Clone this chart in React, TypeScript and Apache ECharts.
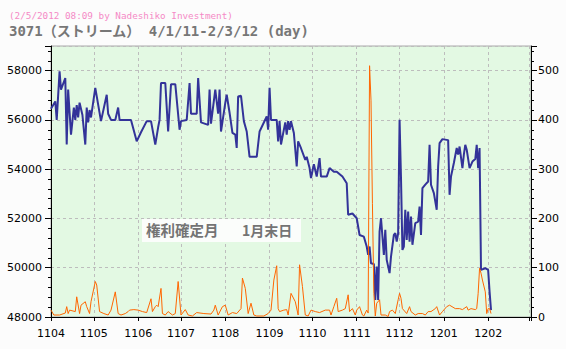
import React, { useEffect, useRef } from 'react';
import * as echarts from 'echarts';

const titleLine1 = '(2/5/2012 08:09 by Nadeshiko Investment)';
const titleLine2 = '3071（ストリーム） 4/1/11-2/3/12 (day)';
const noteLeft = '権利確定月';
const noteRight = '1月末日';

const monthLabels = ['1104', '1105', '1106', '1107', '1108', '1109', '1110', '1111', '1112', '1201', '1202'];

const priceDates = [
  '2011-04-01', '2011-04-04', '2011-04-05', '2011-04-07', '2011-04-08', '2011-04-11', '2011-04-12', '2011-04-13',
  '2011-04-15', '2011-04-17', '2011-04-18', '2011-04-19', '2011-04-20', '2011-04-21', '2011-04-23', '2011-04-25',
  '2011-04-26', '2011-04-27', '2011-04-28', '2011-04-29', '2011-05-02', '2011-05-06', '2011-05-10', '2011-05-11',
  '2011-05-13', '2011-05-16', '2011-05-18', '2011-05-19', '2011-05-27', '2011-05-31', '2011-06-03', '2011-06-07',
  '2011-06-10', '2011-06-13', '2011-06-15', '2011-06-16', '2011-06-17', '2011-06-20', '2011-06-22', '2011-06-24',
  '2011-06-27', '2011-06-30', '2011-07-01', '2011-07-05', '2011-07-07', '2011-07-08', '2011-07-12', '2011-07-13',
  '2011-07-15', '2011-07-20', '2011-07-21', '2011-07-22', '2011-07-25', '2011-07-27', '2011-07-28', '2011-07-29',
  '2011-08-01', '2011-08-02', '2011-08-04', '2011-08-06', '2011-08-08', '2011-08-09', '2011-08-10', '2011-08-12',
  '2011-08-14', '2011-08-16', '2011-08-18', '2011-08-23', '2011-08-25', '2011-08-30', '2011-08-31', '2011-09-01',
  '2011-09-02', '2011-09-06', '2011-09-07', '2011-09-08', '2011-09-09', '2011-09-12', '2011-09-13', '2011-09-14',
  '2011-09-15', '2011-09-16', '2011-09-18', '2011-09-20', '2011-09-21', '2011-09-23', '2011-09-26', '2011-09-27',
  '2011-09-29', '2011-09-30', '2011-10-02', '2011-10-04', '2011-10-06', '2011-10-07', '2011-10-11', '2011-10-13',
  '2011-10-16', '2011-10-18', '2011-10-22', '2011-10-25', '2011-10-26', '2011-10-29', '2011-11-01', '2011-11-03',
  '2011-11-06', '2011-11-08', '2011-11-09', '2011-11-10', '2011-11-11', '2011-11-13', '2011-11-14', '2011-11-15',
  '2011-11-16', '2011-11-17', '2011-11-18', '2011-11-20', '2011-11-21', '2011-11-22', '2011-11-24', '2011-11-25',
  '2011-11-27', '2011-11-28', '2011-11-29', '2011-11-30', '2011-12-01', '2011-12-02', '2011-12-03', '2011-12-04',
  '2011-12-05', '2011-12-06', '2011-12-07', '2011-12-08', '2011-12-09', '2011-12-10', '2011-12-12', '2011-12-14',
  '2011-12-15', '2011-12-16', '2011-12-17', '2011-12-19', '2011-12-21', '2011-12-22', '2011-12-23', '2011-12-25',
  '2011-12-27', '2011-12-28', '2011-12-29', '2011-12-31', '2012-01-04', '2012-01-05', '2012-01-06', '2012-01-08',
  '2012-01-10', '2012-01-11', '2012-01-12', '2012-01-14', '2012-01-15', '2012-01-16', '2012-01-17', '2012-01-19',
  '2012-01-21', '2012-01-23', '2012-01-24', '2012-01-25', '2012-01-26', '2012-01-27', '2012-01-30', '2012-02-01',
  '2012-02-02', '2012-02-03',
];

const priceValues = [
  56450, 56750, 56000, 57970, 57230, 57700, 55000, 57230,
  55400, 56500, 56000, 56600, 56100, 56700, 56200, 55000,
  56500, 55900, 56400, 56100, 57300, 55950, 57020, 56250,
  56000, 56000, 56500, 56000, 56000, 55130, 55500, 55950,
  55950, 55000, 55700, 56000, 57500, 57500, 55530, 57450,
  57450, 55600, 55950, 56000, 57500, 56250, 56250, 57700,
  55900, 55800, 57230, 55850, 57230, 56250, 57230, 55530,
  56690, 57020, 56290, 55470, 55400, 54860, 56950, 56980,
  55950, 55530, 54500, 54500, 55530, 56140, 55600, 57300,
  56000, 56000, 55130, 55950, 55000, 55900, 55400, 55950,
  55600, 55950, 55470, 54110, 55130, 54850, 54380, 54500,
  54045, 53640, 54200, 53700, 54450, 53700, 53700, 54045,
  53900, 53900, 53700, 53430, 52150, 52200, 52010, 51330,
  51260, 50860, 50520, 50860, 50180, 50150, 48690, 50050,
  48690, 51470, 52010, 50520, 51540, 50320, 49780, 50450,
  51330, 51400, 51060, 51400, 56010, 53640, 50720, 50860,
  52350, 51130, 52280, 51060, 52080, 50930, 51810, 51870,
  52480, 51330, 53230, 53370, 53500, 54990, 53370, 53030,
  52350, 54110, 55060, 55220, 55180, 52960, 53700, 54250,
  54860, 54590, 54920, 54040, 54590, 54990, 54790, 54040,
  54310, 54410, 54990, 54040, 54860, 49910, 49980, 49910,
  49030, 48280,
];

const volumeDates = [
  '2011-04-01', '2011-04-03', '2011-04-07', '2011-04-11', '2011-04-12', '2011-04-13', '2011-04-14', '2011-04-18',
  '2011-04-19', '2011-04-21', '2011-04-22', '2011-04-25', '2011-04-26', '2011-04-28', '2011-04-29', '2011-05-02',
  '2011-05-03', '2011-05-05', '2011-05-08', '2011-05-11', '2011-05-13', '2011-05-16', '2011-05-18', '2011-05-20',
  '2011-05-23', '2011-05-25', '2011-05-26', '2011-05-29', '2011-06-01', '2011-06-04', '2011-06-07', '2011-06-10',
  '2011-06-11', '2011-06-13', '2011-06-14', '2011-06-15', '2011-06-17', '2011-06-18', '2011-06-20', '2011-06-22',
  '2011-06-25', '2011-06-27', '2011-06-29', '2011-07-01', '2011-07-04', '2011-07-06', '2011-07-09', '2011-07-12',
  '2011-07-17', '2011-07-22', '2011-07-24', '2011-07-25', '2011-07-27', '2011-07-30', '2011-08-01', '2011-08-03',
  '2011-08-06', '2011-08-09', '2011-08-12', '2011-08-13', '2011-08-15', '2011-08-17', '2011-08-19', '2011-08-21',
  '2011-08-23', '2011-08-28', '2011-08-31', '2011-09-02', '2011-09-04', '2011-09-06', '2011-09-07', '2011-09-08',
  '2011-09-11', '2011-09-13', '2011-09-14', '2011-09-16', '2011-09-19', '2011-09-21', '2011-09-22', '2011-09-24',
  '2011-09-26', '2011-09-28', '2011-09-30', '2011-10-03', '2011-10-06', '2011-10-10', '2011-10-13', '2011-10-14',
  '2011-10-16', '2011-10-18', '2011-10-19', '2011-10-22', '2011-10-24', '2011-10-26', '2011-10-27', '2011-10-29',
  '2011-10-31', '2011-11-01', '2011-11-03', '2011-11-05', '2011-11-06', '2011-11-08', '2011-11-09', '2011-11-10',
  '2011-11-11', '2011-11-12', '2011-11-13', '2011-11-14', '2011-11-15', '2011-11-17', '2011-11-18', '2011-11-21',
  '2011-11-23', '2011-11-24', '2011-11-26', '2011-11-28', '2011-11-30', '2011-12-01', '2011-12-02', '2011-12-03',
  '2011-12-06', '2011-12-08', '2011-12-09', '2011-12-12', '2011-12-14', '2011-12-17', '2011-12-19', '2011-12-21',
  '2011-12-23', '2011-12-26', '2011-12-27', '2011-12-29', '2011-12-31', '2012-01-03', '2012-01-05', '2012-01-09',
  '2012-01-12', '2012-01-14', '2012-01-17', '2012-01-18', '2012-01-20', '2012-01-23', '2012-01-24', '2012-01-25',
  '2012-01-26', '2012-01-27', '2012-01-28', '2012-01-30', '2012-01-31', '2012-02-01', '2012-02-02', '2012-02-03',
];

const volumeValues = [
  14, 4, 4, 8, 21, 7, 14, 11,
  41, 7, 24, 31, 21, 7, 31, 72,
  65, 11, 7, 4, 14, 51, 7, 4,
  7, 11, 14, 15, 14, 11, 9, 37,
  11, 21, 24, 21, 58, 7, 4, 11,
  4, 7, 72, 4, 15, 4, 2, 9,
  7, 6, 14, 24, 4, 21, 24, 4,
  9, 7, 17, 79, 58, 7, 28, 4,
  2, 2, 7, 14, 75, 104, 17, 11,
  14, 15, 4, 48, 31, 4, 106, 62,
  4, 2, 14, 11, 9, 14, 14, 4,
  21, 38, 11, 14, 17, 45, 11, 17,
  4, 14, 21, 4, 2, 14, 8, 510,
  440, 230, 48, 2, 28, 35, 4, 4,
  1, 11, 14, 7, 35, 48, 38, 17,
  7, 21, 11, 4, 7, 7, 4, 11,
  11, 17, 21, 4, 11, 21, 24, 17,
  17, 15, 21, 14, 17, 15, 17, 48,
  99, 89, 75, 51, 7, 17, 17, 7,
];

const DAY = 24 * 3600 * 1000;

function pad2(n: number): string {
  return n < 10 ? '0' + n : String(n);
}

export default function App() {
  const ref = useRef<HTMLDivElement>(null);

  useEffect(() => {
    if (!ref.current) return;
    const chart = echarts.init(ref.current, undefined, { renderer: 'svg' });
    const grid = { type: [3, 3] as number[], color: '#bdbdbd', width: 1 };
    const axisFont = 'DejaVu Sans';
    const option: any = {
      animation: false,
      backgroundColor: '#fcfcfc',
      textStyle: { fontFamily: axisFont },
      grid: {
        left: 51,
        right: 35,
        top: 46,
        bottom: 32,
        show: true,
        backgroundColor: '#e3f9e3',
        borderColor: '#aaaaaa',
        borderWidth: 1,
      },
      xAxis: {
        type: 'time',
        min: '2011-04-01',
        max: '2012-03-02',
        splitNumber: 11,
        minInterval: 28 * DAY,
        maxInterval: 31 * DAY,
        axisLine: { show: true, lineStyle: { color: '#000000', width: 1 } },
        axisTick: { show: true, length: 4, lineStyle: { color: '#000000' } },
        axisLabel: {
          color: '#000000',
          fontSize: 11,
          fontFamily: axisFont,
          margin: 11,
          hideOverlap: false,
          showMinLabel: true,
          showMaxLabel: true,
          formatter: (v: number) => {
            const d = new Date(v);
            if (d.getDate() !== 1) return '';
            const s = pad2(d.getFullYear() % 100) + pad2(d.getMonth() + 1);
            return monthLabels.indexOf(s) >= 0 ? s : '';
          },
        },
        splitLine: { show: true, lineStyle: grid },
      },
      yAxis: [
        {
          type: 'value',
          position: 'left',
          min: 48000,
          max: 59000,
          interval: 2000,
          axisLine: { show: true, lineStyle: { color: '#000000', width: 1 } },
          axisTick: { show: true, length: 6, lineStyle: { color: '#000000' } },
          minorTick: { show: true, splitNumber: 5, length: 3, lineStyle: { color: '#000000' } },
          axisLabel: {
            color: '#000000',
            fontSize: 11,
            fontFamily: axisFont,
            margin: 9,
            showMaxLabel: false,
            formatter: (v: number) => String(v),
          },
          splitLine: { show: true, lineStyle: grid },
        },
        {
          type: 'value',
          position: 'right',
          min: 0,
          max: 550,
          interval: 100,
          axisLine: { show: true, lineStyle: { color: '#000000', width: 1 } },
          axisTick: { show: true, length: 6, lineStyle: { color: '#000000' } },
          minorTick: { show: true, splitNumber: 5, length: 3, lineStyle: { color: '#000000' } },
          axisLabel: {
            color: '#000000',
            fontSize: 11,
            fontFamily: axisFont,
            margin: 7,
            showMaxLabel: false,
            formatter: (v: number) => String(v),
          },
          splitLine: { show: false },
        },
      ],
      series: [
        {
          name: 'price',
          type: 'line',
          yAxisIndex: 0,
          data: priceDates.map((d, i) => [d, priceValues[i]]),
          showSymbol: false,
          symbol: 'none',
          lineStyle: { color: '#333399', width: 2 },
          z: 3,
        },
        {
          name: 'volume',
          type: 'line',
          yAxisIndex: 1,
          data: volumeDates.map((d, i) => [d, volumeValues[i]]),
          showSymbol: false,
          symbol: 'none',
          lineStyle: { color: '#ff6600', width: 1 },
          z: 4,
        },
      ],
      graphic: [
        {
          type: 'text',
          x: 9,
          y: 15,
          z: 100,
          style: {
            text: titleLine1,
            fill: '#f58ac6',
            font: '9.3px "DejaVu Sans Mono"',
            textVerticalAlign: 'middle',
          },
        },
        {
          type: 'text',
          x: 9,
          y: 31,
          z: 100,
          style: {
            text: titleLine2,
            fill: '#777777',
            font: 'bold 14px "DejaVu Sans Mono", "Noto Sans CJK JP"',
            textVerticalAlign: 'middle',
          },
        },
        {
          type: 'rect',
          z: 100,
          shape: { x: 142, y: 219, width: 159, height: 23 },
          style: { fill: '#fbfdfb' },
        },
        {
          type: 'text',
          x: 146,
          y: 229.5,
          z: 101,
          style: {
            text: noteLeft,
            fill: '#747474',
            font: 'bold 14.5px "Noto Sans CJK JP"',
            textVerticalAlign: 'middle',
          },
        },
        {
          type: 'text',
          x: 242,
          y: 229.5,
          z: 101,
          style: {
            text: noteRight,
            fill: '#747474',
            font: 'bold 14px "Noto Sans CJK JP"',
            textVerticalAlign: 'middle',
          },
        },
      ],
    };
    chart.setOption(option);
    return () => {
      chart.dispose();
    };
  }, []);

  return (
    <div
      ref={ref}
      style={{ position: 'absolute', left: 0, top: 0, width: 566, height: 349 }}
    />
  );
}
